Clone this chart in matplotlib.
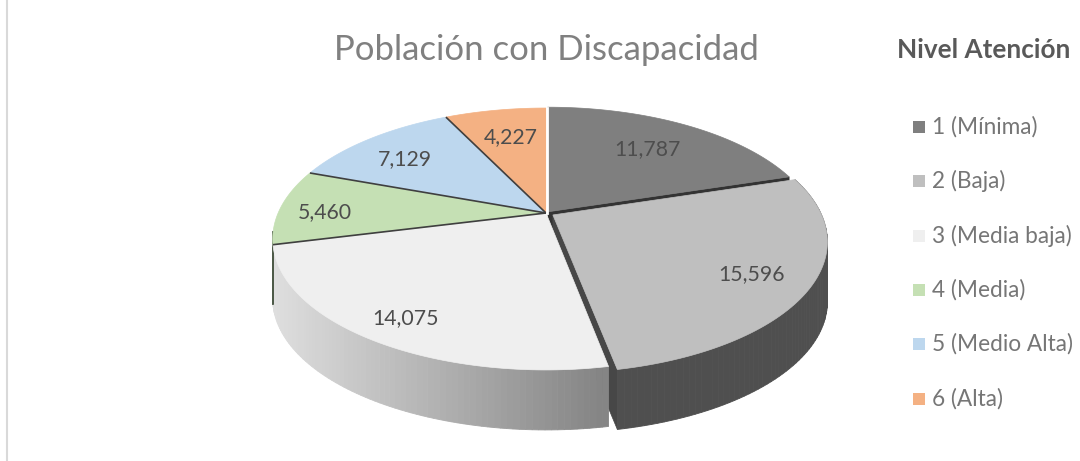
import matplotlib
matplotlib.use('Agg')
import matplotlib.pyplot as plt
import numpy as np
from matplotlib.patches import Polygon, Rectangle

# data
categories = ['1 (Mínima)', '2 (Baja)', '3 (Media baja)', '4 (Media)', '5 (Medio Alta)', '6 (Alta)']
values = [11787, 15596, 14075, 5460, 7129, 4227]
top_colors = ['#7f7f7f', '#bfbfbf', '#efefef', '#c5e0b4', '#bdd7ee', '#f4b183']
explode = [0.012, 0.03, 0, 0, 0, 0]

title = 'Población con Discapacidad'
legend_title = 'Nivel Atención'

# projection of the tilted disc (pixel coords, y downward)
CX, CY = 546, 213
A, B, D = 1350, 634, 5.04
DEPTH = 60

# label anchor points, pixels
label_pos = [(647, 149), (752, 274), (406, 318), (325, 212), (405, 159), (511, 137)]


def proj(u, v, z=0.0):
    s = 1.0 / (D - v)
    return CX + A * u * s, CY + B * v * s + z * DEPTH


def arc_pts(a0, a1, off, n=60):
    phi = np.radians(np.linspace(a0, a1, n))
    return np.sin(phi) + off[0], -np.cos(phi) + off[1]


fig = plt.figure(figsize=(10.8, 4.61), dpi=100)
ax = fig.add_axes([0, 0, 1, 1])
ax.set_xlim(0, 1080)
ax.set_ylim(461, 0)
ax.axis('off')

total = float(sum(values))
bounds = np.concatenate([[0], np.cumsum(values) / total * 360])
offsets = []
for i in range(len(values)):
    mid = np.radians((bounds[i] + bounds[i + 1]) / 2)
    offsets.append((explode[i] * np.sin(mid), -explode[i] * np.cos(mid)))


def radial_face(i, ang, color):
    du, dv = offsets[i]
    a = np.radians(ang)
    eu, ev = np.sin(a) + du, -np.cos(a) + dv
    pts = [proj(du, dv), proj(eu, ev), proj(eu, ev, 1), proj(du, dv, 1)]
    ax.add_patch(Polygon(pts, closed=True, facecolor=color, edgecolor=color, lw=0.5))


def outer_side(i, a0, a1, color_fn, n=80):
    u, v = arc_pts(a0, a1, offsets[i], n)
    for k in range(n - 1):
        pts = [proj(u[k], v[k]), proj(u[k + 1], v[k + 1]),
               proj(u[k + 1], v[k + 1], 1), proj(u[k], v[k], 1)]
        xm = (pts[0][0] + pts[1][0]) / 2
        c = color_fn(xm)
        ax.add_patch(Polygon(pts, closed=True, facecolor=c, edgecolor=c, lw=0.6))


# sides, back to front
radial_face(0, bounds[1], '#333333')
radial_face(1, bounds[2], '#474747')
outer_side(1, bounds[1], bounds[2], lambda x: '#4f4f4f')


def grey_ramp(x):
    t = np.clip((x - 275) / (600 - 275), 0, 1)
    g = 0.87 - t * (0.87 - 0.52)
    return (g, g, g)


outer_side(2, bounds[2], bounds[3], grey_ramp)
outer_side(3, bounds[3], min(bounds[4], 262), lambda x: '#4d5a48')

# top faces
for i in range(len(values)):
    du, dv = offsets[i]
    u, v = arc_pts(bounds[i], bounds[i + 1], offsets[i], 120)
    pts = [proj(du, dv)] + [proj(a, b) for a, b in zip(u, v)]
    ax.add_patch(Polygon(pts, closed=True, facecolor=top_colors[i],
                         edgecolor=top_colors[i], lw=0.5))

# thin dark separators on the back slices
for ang in bounds[3:6]:
    a = np.radians(ang)
    x0, y0 = proj(0, 0)
    x1, y1 = proj(np.sin(a), -np.cos(a))
    ax.plot([x0, x1], [y0, y1], color='#3f3f3f', lw=1.2, solid_capstyle='butt')
# white gap between slice 6 and slice 1
x0, y0 = proj(0, 0)
x1, y1 = proj(0, -1)
ax.plot([x0 + 1.2, x1 + 1.2], [y0, y1], color='white', lw=2.0)

# data labels
for (lx, ly), val in zip(label_pos, values):
    ax.text(lx, ly, f'{val:,}', ha='center', va='center', fontsize=15.3,
            family='Lato', color='#4d4d4d')

ax.text(546, 50, title, ha='center', va='center', fontsize=25,
        family='Lato', color='#808080')

# legend
ax.text(984, 50, legend_title, ha='center', va='center', fontsize=18.8,
        family='Lato', fontweight='bold', color='#595959')
leg_y0, leg_dy = 127, 54.3
for k, (name, col) in enumerate(zip(categories, top_colors)):
    y = leg_y0 + k * leg_dy
    ax.add_patch(Rectangle((913, y - 6), 12, 12, facecolor=col, edgecolor='none'))
    ax.text(932, y, name, ha='left', va='center', fontsize=16.3,
            family='Lato', color='#767676')

# chart border remnant on the left
ax.plot([6.5, 6.5], [0, 461], color='#d9d9d9', lw=1.5)

fig.savefig('out.png', dpi=100)
